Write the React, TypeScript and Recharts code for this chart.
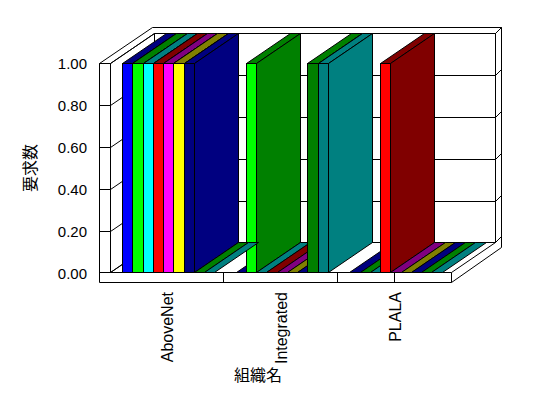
import { BarChart, Bar, XAxis, YAxis, CartesianGrid } from 'recharts';

// 組織ごとの要求数 (9 series, 3 organizations)
const organizations = ['AboveNet', 'Integrated', 'PLALA'];
const seriesKeys = ['s1', 's2', 's3', 's4', 's5', 's6', 's7', 's8', 's9'];
const s1 = [1, 0, 0];
const s2 = [1, 1, 0];
const s3 = [1, 0, 0];
const s4 = [1, 0, 1];
const s5 = [1, 0, 0];
const s6 = [1, 0, 0];
const s7 = [1, 0, 0];
const s8 = [0, 1, 0];
const s9 = [0, 1, 0];
const yTicks = [0, 0.2, 0.4, 0.6, 0.8, 1];

const frontColors = ['#0000FF', '#00FF00', '#00FFFF', '#FF0000', '#FF00FF', '#FFFF00', '#000080', '#008000', '#008080'];
const sideColors = ['#000080', '#008000', '#008080', '#800000', '#800080', '#808000', '#000080', '#008000', '#008080'];

const seriesValues = [s1, s2, s3, s4, s5, s6, s7, s8, s9];
const data = organizations.map((name, i) => {
  const row: Record<string, string | number> = { name };
  seriesKeys.forEach((k, j) => {
    row[k] = seriesValues[j][i];
  });
  return row;
});

// depth of the 3d box
const DX = 44;
const DY = 30;
const FONT = '"Liberation Sans", Arial, sans-serif';
const CJK = '"Noto Sans CJK JP", sans-serif';

function Box3D(props: any) {
  const { x, y, width, height, front, side } = props;
  const l = Math.round(x) + 0.5;
  const r = Math.round(x + width) + 0.5;
  const b = Math.round(y + height) - 0.5;
  const solid = height >= 1;
  const t = solid ? Math.round(y) + 0.5 : b;
  return (
    <g stroke="#000" strokeWidth={1}>
      {solid && <rect x={l} y={t} width={r - l} height={b - t} fill={front} />}
      <polygon points={`${l},${t} ${r},${t} ${r + DX},${t - DY} ${l + DX},${t - DY}`} fill={side} />
      {solid && (
        <polygon points={`${r},${t} ${r + DX},${t - DY} ${r + DX},${b - DY} ${r},${b}`} fill={side} />
      )}
    </g>
  );
}

// walls + gridlines, drawn from the y axis ticks
function WallLine(p: any) {
  const { x, y, width, height, y1, index } = p;
  const x0 = x - 0.5;
  const x1 = x + width - 0.5;
  const yT = y + 0.5;
  const yB = y + height - 0.5;
  const yS = yB + 10;
  const lx = x0 - 11;
  const ox = x1 + DX + 6;
  const oy = yT - DY - 6;
  const yy = Math.min(Math.round(y1) + 0.5, yB);
  const frame =
    index === 0
      ? [
          `M${lx} ${yT} V${yS} H${x1} V${yB}`,
          `M${x0} ${yT} V${yB} H${x1}`,
          `M${lx} ${yT} H${x0} L${x0 + DX} ${yT - DY}`,
          `M${lx} ${yT} L${lx + 53} ${oy} H${ox} V${yS - 35} L${x1} ${yS}`,
          `M${x0 + DX} ${yT - DY} H${x1 + DX} V${yB - DY} H${x0 + DX} Z`,
          `M${x1 + DX} ${yT - DY} L${ox} ${oy}`,
          `M${x1} ${yB} L${x1 + DX} ${yB - DY}`,
          `M${x0} ${yB} L${x0 + DX} ${yB - DY}`,
        ].join(' ')
      : '';
  const grid = `M${lx} ${yy} H${x0} L${x0 + DX} ${yy - DY} H${x1 + DX} L${ox} ${yy - DY - 6}`;
  return (
    <g key={p.key} fill="none" stroke="#000" strokeWidth={1}>
      {frame && <path d={frame} />}
      <path d={grid} />
    </g>
  );
}

// category separators on the floor slab
function FloorDivider(p: any) {
  const { x, x1, y2, width } = p;
  const band = width / organizations.length;
  const bx = Math.floor(x1 - band / 2) - 0.5;
  if (bx < x + 2 || bx > x + width - 2) return <g key={p.key} />;
  return <path key={p.key} d={`M${bx} ${y2 - 0.5} V${y2 + 9.5}`} stroke="#000" fill="none" />;
}

function CatTick(props: any) {
  const { x, y, payload } = props;
  return (
    <text
      x={x}
      y={y}
      transform={`rotate(-90, ${x}, ${y})`}
      textAnchor="end"
      dominantBaseline="central"
      fontSize={16}
      fontFamily={FONT}
      fill="#000"
    >
      {payload.value}
    </text>
  );
}

function ValueTick(props: any) {
  const { x, y, payload } = props;
  return (
    <text x={x} y={y} textAnchor="end" dominantBaseline="central" fontSize={15} fontFamily={FONT} fill="#000">
      {Number(payload.value).toFixed(2)}
    </text>
  );
}

export default function App() {
  return (
    <div style={{ position: 'absolute', left: 0, top: 0, width: 548, height: 398, background: '#fff' }}>
      <BarChart width={548} height={398} data={data} margin={{ top: 63, right: 96, bottom: 0, left: 0 }} barGap={0}>
        <CartesianGrid horizontal={WallLine} vertical={FloorDivider} />
        <XAxis
          dataKey="name"
          axisLine={false}
          tickLine={false}
          tickSize={0}
          tickMargin={19}
          height={125}
          interval={0}
          tick={<CatTick />}
          label={{
            content: (p: any) => (
              <text
                x={p.viewBox.x + 147}
                y={p.viewBox.y + 101}
                textAnchor="middle"
                dominantBaseline="central"
                fontSize={16}
                fontFamily={CJK}
                fill="#000"
              >
                組織名
              </text>
            ),
          }}
        />
        <YAxis
          domain={[0, 1]}
          ticks={yTicks}
          axisLine={false}
          tickLine={false}
          tickSize={0}
          tickMargin={24}
          width={111}
          tick={<ValueTick />}
          label={{
            content: (p: any) => {
              const cx = p.viewBox.x + 29;
              const cy = p.viewBox.y + p.viewBox.height / 2;
              return (
                <text
                  x={cx}
                  y={cy}
                  transform={`rotate(-90, ${cx}, ${cy})`}
                  textAnchor="middle"
                  dominantBaseline="central"
                  fontSize={16}
                  fontFamily={CJK}
                  fill="#000"
                >
                  要求数
                </text>
              );
            },
          }}
        />
        {seriesKeys.map((k, i) => (
          <Bar
            key={k}
            dataKey={k}
            barSize={10.25}
            isAnimationActive={false}
            shape={(p: any) => <Box3D {...p} front={frontColors[i]} side={sideColors[i]} />}
          />
        ))}
      </BarChart>
    </div>
  );
}
